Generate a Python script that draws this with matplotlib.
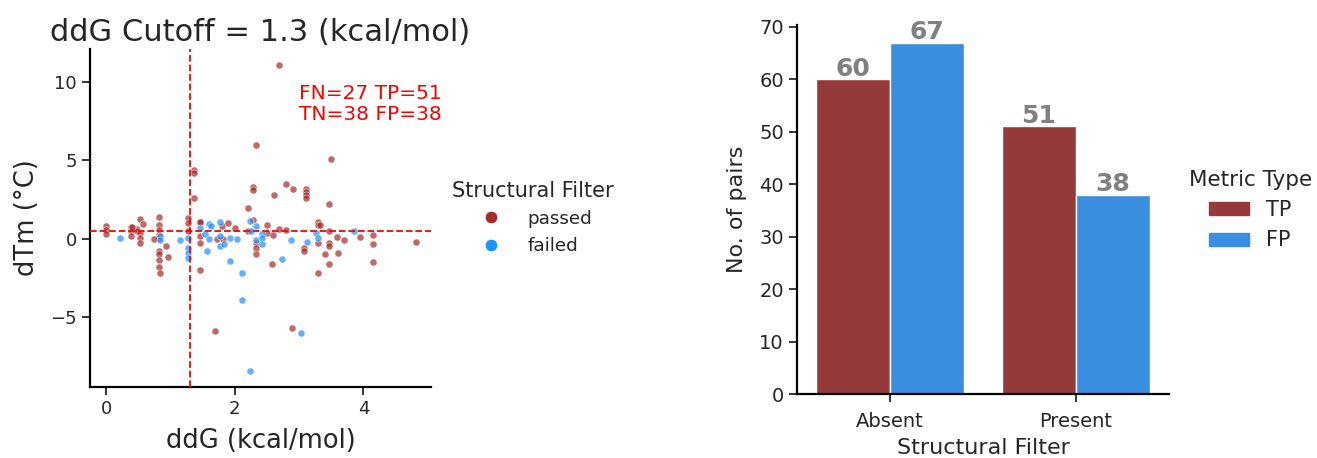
import numpy as np
import matplotlib
matplotlib.use("Agg")
import matplotlib.pyplot as plt
from matplotlib.lines import Line2D
from matplotlib.patches import Patch

# ---------------- data ----------------
passed_ddg = [0.00, 0.00, 0.00, 2.69, 2.33, 3.49, 1.37, 1.37, 1.37, 2.79, 2.90,
              2.29, 2.29, 2.61, 3.11, 3.11, 3.11, 3.11, 3.46, 2.20,
              1.28, 1.28, 1.28, 1.46, 1.46, 1.46, 1.46,
              0.82, 0.82, 0.82, 0.82, 0.82, 0.82, 0.82, 0.82, 0.82, 0.84,
              0.38, 0.38, 0.38, 0.48, 0.48, 0.52, 0.58, 0.53, 0.53, 0.53, 0.74,
              0.93, 0.96, 1.72, 1.82, 1.70, 1.80, 1.89, 2.01, 2.20, 2.28,
              2.33, 2.33, 2.33, 2.50, 2.50, 2.60, 2.58, 2.69, 2.80, 2.89,
              3.07, 3.07, 3.30, 3.30, 3.33, 3.30, 3.30, 3.46, 3.46, 3.46, 3.46, 3.41,
              3.59, 3.61, 3.70, 3.94, 4.15, 4.15, 4.15, 4.81, 1.46, 0.40]
passed_dtm = [0.79, 0.57, 0.30, 11.1, 6.0, 5.07, 4.4, 4.2, 2.57, 3.5, 3.2,
              3.3, 3.1, 2.8, 3.2, 3.0, 2.8, 2.6, 2.2, 1.95,
              1.3, 1.0, 0.47, 1.1, 0.15, -0.28, -1.97,
              1.38, 0.89, 0.57, 0.25, 0.04, -0.75, -0.96, -1.34, -1.8, -2.15,
              0.72, 0.47, 0.15, 0.60, 0.47, 1.27, 0.96, 0.36, 0.04, -0.24, 0.0,
              -0.49, -1.13, 0.0, -0.02, -5.9, 0.79, 1.0, 0.68, 0.47, 1.2,
              -0.3, -0.6, -1.0, 0.89, 0.36, 0.27, -1.6, 0.62, 0.57, -5.7,
              -0.6, -0.75, 1.1, 0.89, 0.89, -0.3, -2.2, 0.5, -0.28, -0.49, -1.6, -1.0,
              0.1, -0.91, -0.1, 0.1, 0.25, -0.34, -1.48, -0.2, 1.1, 0.74]

failed_ddg = [0.21, 0.84, 0.84, 1.15, 1.28, 1.28, 1.28, 1.28, 1.46, 1.53, 1.60,
              1.63, 1.57, 1.60, 1.77, 1.77, 1.77, 1.84, 1.92, 1.93, 2.04, 2.12,
              2.12, 2.24, 2.25, 2.24, 2.33, 2.33, 2.43, 2.43, 2.43, 2.73, 2.88,
              3.03, 3.13, 3.26, 3.29, 3.86]
failed_dtm = [0.08, 0.15, -0.10, -0.06, 0.04, -0.60, -0.92, -1.24, 0.68, 0.30, 0.96,
              0.79, -0.76, 0.0, 1.1, 0.15, -0.45, -0.34, 0.04, -1.4, 0.0, -2.15,
              -3.93, 1.15, 0.47, -8.45, -0.06, 0.83, 0.32, 0.04, -0.34, -1.27, -0.1,
              -6.0, -0.21, 0.40, 0.02, 0.47]

ddg_cutoff = 1.3
dtm_cutoff = 0.5
counts_text = "FN=27 TP=51\nTN=38 FP=38"

filter_categories = ["Absent", "Present"]
tp_counts = [60, 51]
fp_counts = [67, 38]
metric_types = ["TP", "FP"]

# ---------------- style ----------------
RED_PT = "brown"
BLUE_PT = "dodgerblue"
TP_COLOR = "#953a3a"
FP_COLOR = "#3a8ee0"
TXT = "#262626"

plt.rcParams["font.family"] = ["DejaVu Sans"]
plt.rcParams["text.color"] = TXT
plt.rcParams["axes.labelcolor"] = TXT
plt.rcParams["xtick.color"] = TXT
plt.rcParams["ytick.color"] = TXT

fig = plt.figure(figsize=(13.17, 4.58), dpi=100)

# ---------------- scatter ----------------
ax1 = fig.add_axes([90/1317, 1-387/458, (431-90)/1317, (387-49)/458])
ax1.scatter(passed_ddg, passed_dtm, s=26, c=RED_PT, alpha=0.7,
            edgecolors="white", linewidths=0.5, zorder=2)
ax1.scatter(failed_ddg, failed_dtm, s=26, c=BLUE_PT, alpha=0.7,
            edgecolors="white", linewidths=0.5, zorder=2)
ax1.axvline(ddg_cutoff, color="red", ls="--", lw=1.3, zorder=3)
ax1.axhline(dtm_cutoff, color="red", ls="--", lw=1.3, zorder=3)
ax1.text(3.0, 8.6, counts_text, color="red", fontsize=14.5, ha="left",
         va="center", linespacing=1.15)
ax1.set_xlim(-0.25, 5.05)
ax1.set_ylim(-9.45, 12.1)
ax1.set_xticks([0, 2, 4])
ax1.set_yticks([-5, 0, 5, 10])
ax1.set_xlabel("ddG (kcal/mol)", fontsize=18.5, labelpad=7)
ax1.set_ylabel("dTm (°C)", fontsize=18.5, labelpad=7)
ax1.set_title("ddG Cutoff = 1.3 (kcal/mol)", fontsize=22, pad=6, color=TXT)
ax1.spines[["top", "right"]].set_visible(False)
ax1.spines[["left", "bottom"]].set_linewidth(1.6)
ax1.tick_params(labelsize=13, length=6, width=1.3)

leg1_handles = [Line2D([], [], marker="o", ls="", markersize=9, color=RED_PT,
                       markeredgecolor="white", markeredgewidth=0.5),
                Line2D([], [], marker="o", ls="", markersize=9, color=BLUE_PT,
                       markeredgecolor="white", markeredgewidth=0.5)]
leg1 = fig.legend(leg1_handles, ["passed", "failed"], title="Structural Filter",
                  loc="upper left", bbox_to_anchor=(437/1317, 1-166/458),
                  frameon=False, fontsize=13.2, title_fontsize=15,
                  handletextpad=1.0, labelspacing=0.5, borderpad=0.3)

# ---------------- bars ----------------
ax2 = fig.add_axes([797/1317, 1-394/458, (1169-797)/1317, (394-25)/458])
x = np.arange(len(filter_categories))
w = 0.4
b1 = ax2.bar(x - w/2, tp_counts, width=w, color=TP_COLOR, edgecolor="white",
             linewidth=1.0, label=metric_types[0])
b2 = ax2.bar(x + w/2, fp_counts, width=w, color=FP_COLOR, edgecolor="white",
             linewidth=1.0, label=metric_types[1])
for bars in (b1, b2):
    ax2.bar_label(bars, fontsize=18, fontweight="bold", color="gray", padding=-1)
ax2.set_xlim(-0.5, 1.5)
ax2.set_ylim(0, 70.35)
ax2.set_xticks(x)
ax2.set_xticklabels(filter_categories)
ax2.set_yticks(range(0, 71, 10))
ax2.set_xlabel("Structural Filter", fontsize=16, labelpad=5)
ax2.set_ylabel("No. of pairs", fontsize=16, labelpad=9)
ax2.spines[["top", "right"]].set_visible(False)
ax2.spines[["left", "bottom"]].set_linewidth(1.6)
ax2.tick_params(labelsize=14, length=6, width=1.3)
ax2.tick_params(axis="x", pad=7)

leg2 = fig.legend(handles=[Patch(color=TP_COLOR), Patch(color=FP_COLOR)],
                  labels=metric_types, title="Metric Type", loc="upper left",
                  bbox_to_anchor=(1172/1317, 1-153/458), frameon=False,
                  fontsize=15, title_fontsize=15.5, handlelength=1.9,
                  handleheight=0.6, handletextpad=0.8, labelspacing=0.5,
                  borderpad=0.3)

fig.savefig("out.png", dpi=100)
